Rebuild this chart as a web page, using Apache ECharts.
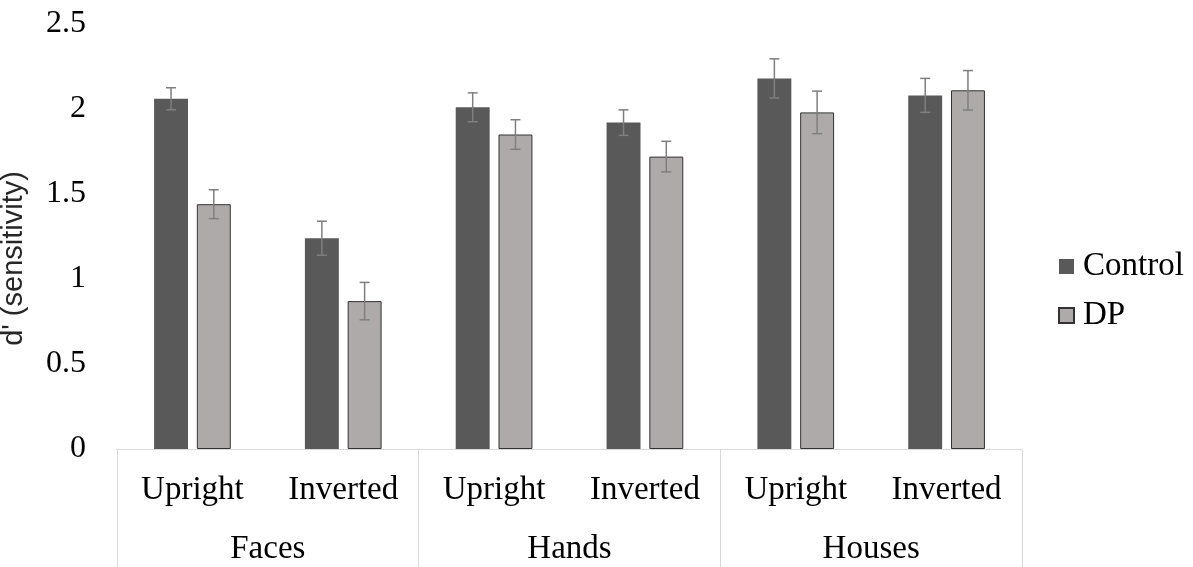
<!DOCTYPE html>
<html>
<head>
<meta charset="utf-8">
<script src="https://cdn.jsdelivr.net/npm/echarts@6/dist/echarts.min.js"></script>
<style>
  html, body { margin: 0; padding: 0; background: #fff; }
  #chart { width: 1193px; height: 567px; }
</style>
</head>
<body>
<div id="chart"></div>
<script>
const conditions = ['Upright', 'Inverted', 'Upright', 'Inverted', 'Upright', 'Inverted']
const stimulusGroups = ['Faces', 'Hands', 'Houses']
const controlMeans = [2.06, 1.24, 2.01, 1.92, 2.18, 2.08]
const controlErrors = [0.065, 0.10, 0.085, 0.075, 0.115, 0.10]
const dpMeans = [1.44, 0.87, 1.85, 1.72, 1.98, 2.11]
const dpErrors = [0.085, 0.11, 0.087, 0.09, 0.125, 0.116]
const yTicks = { min: 0, max: 2.5, interval: 0.5 }

const SERIF = 'Liberation Serif, Times New Roman, serif'
const BAR_WIDTH_RATIO = 0.225
const BAR_GAP_RATIO = 0.26
const AXIS_GREY = '#d9d9d9'

function errorBarRenderer(side) {
  return function (params, api) {
    const idx = api.value(0)
    const mean = api.value(1)
    const err = api.value(2)
    const band = api.size([1, 0])[0]
    const barW = band * BAR_WIDTH_RATIO
    const shift = side * barW * (1 + BAR_GAP_RATIO) / 2
    const hi = api.coord([idx, mean + err])
    const lo = api.coord([idx, mean - err])
    const x = hi[0] + shift
    const cap = 5
    const style = { stroke: '#7f7f7f', lineWidth: 1.5 }
    return {
      type: 'group',
      children: [
        { type: 'line', shape: { x1: x, y1: hi[1], x2: x, y2: lo[1] }, style },
        { type: 'line', shape: { x1: x - cap, y1: hi[1], x2: x + cap, y2: hi[1] }, style },
        { type: 'line', shape: { x1: x - cap, y1: lo[1], x2: x + cap, y2: lo[1] }, style },
      ],
    }
  }
}

const chart = echarts.init(document.getElementById('chart'), null, { renderer: 'canvas' })

chart.setOption({
  animation: false,
  grid: { left: 117, right: 171, top: 24, bottom: 118, containLabel: false, outerBoundsMode: 'none' },
  legend: {
    data: ['Control', 'DP'],
    orient: 'vertical',
    left: 1058,
    top: 250,
    icon: 'rect',
    itemWidth: 15,
    itemHeight: 15,
    itemGap: 16,
    padding: 0,
    textStyle: { fontFamily: SERIF, fontSize: 33, color: '#000', padding: [0, 0, 0, 4] },
  },
  xAxis: [
    {
      type: 'category',
      data: conditions,
      position: 'bottom',
      axisLine: { show: true, lineStyle: { color: AXIS_GREY, width: 1 } },
      axisTick: { show: false },
      axisLabel: { fontFamily: SERIF, fontSize: 33, color: '#000', margin: 25, interval: 0 },
    },
    {
      type: 'category',
      data: stimulusGroups,
      position: 'bottom',
      axisLine: { show: true, lineStyle: { color: AXIS_GREY, width: 1 } },
      axisTick: { show: true, length: 120, lineStyle: { color: AXIS_GREY, width: 1 } },
      axisLabel: { fontFamily: SERIF, fontSize: 33, color: '#000', margin: 84, interval: 0 },
    },
  ],
  yAxis: {
    type: 'value',
    min: yTicks.min,
    max: yTicks.max,
    interval: yTicks.interval,
    name: "d' (sensitivity)",
    nameLocation: 'middle',
    nameGap: 89,
    nameTextStyle: { fontFamily: 'Liberation Sans, Arial, sans-serif', fontSize: 29, color: '#262626', padding: [0, 44, 0, 0] },
    axisLine: { show: false },
    axisTick: { show: false },
    splitLine: { show: false },
    axisLabel: { fontFamily: SERIF, fontSize: 32, color: '#000', margin: 31 },
  },
  series: [
    {
      name: 'Control',
      type: 'bar',
      data: controlMeans,
      barWidth: (BAR_WIDTH_RATIO * 100) + '%',
      barGap: (BAR_GAP_RATIO * 100) + '%',
      itemStyle: { color: '#595959' },
    },
    {
      name: 'DP',
      type: 'bar',
      data: dpMeans,
      barWidth: (BAR_WIDTH_RATIO * 100) + '%',
      barGap: (BAR_GAP_RATIO * 100) + '%',
      itemStyle: { color: '#aeaaaa', borderColor: '#333', borderWidth: 1 },
    },
    {
      name: 'Control error',
      type: 'custom',
      z: 3,
      renderItem: errorBarRenderer(-1),
      encode: { x: 0, y: 1 },
      data: controlMeans.map((m, i) => [i, m, controlErrors[i]]),
    },
    {
      name: 'DP error',
      type: 'custom',
      z: 3,
      renderItem: errorBarRenderer(1),
      encode: { x: 0, y: 1 },
      data: dpMeans.map((m, i) => [i, m, dpErrors[i]]),
    },
  ],
})
</script>
</body>
</html>
